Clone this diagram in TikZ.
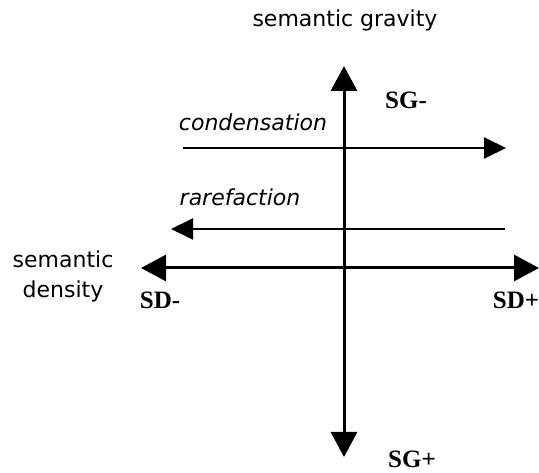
\documentclass[tikz,border=0pt]{standalone}
\usepackage{fontspec}
\setmainfont{DejaVu Sans}
\newfontfamily\labfont{Liberation Serif}
\usetikzlibrary{arrows.meta}
\begin{document}
\begin{tikzpicture}[x=1pt,y=-1pt,
  axis/.style={line width=3pt,-{Triangle[length=25pt,width=26pt]}},
  flow/.style={line width=2pt,-{Triangle[length=22pt,width=21pt]}},
  lbl/.style={font=\fontsize{22}{30}\selectfont},
  pole/.style={font=\labfont\bfseries\fontsize{25}{30}\selectfont},
  flowlbl/.style={font=\itshape\fontsize{22}{26}\selectfont}]
\useasboundingbox (0,0) rectangle (539,473);
\coordinate (vtop) at (344,66);
\coordinate (vbot) at (344,457);
\coordinate (hl) at (141,268);
\coordinate (hr) at (539,268);
\coordinate (c0) at (344,268);
\draw[axis] (c0) -- (vtop);
\draw[axis] (c0) -- (vbot);
\draw[axis] (c0) -- (hl);
\draw[axis] (c0) -- (hr);
\coordinate (cs) at (183,148);
\coordinate (ce) at (506,148);
\coordinate (rs) at (505,229);
\coordinate (re) at (171,229);
\draw[flow] (cs) -- (ce);
\draw[flow] (rs) -- (re);
\node[lbl] (sg) at (345,20) {semantic gravity};
\node[lbl,align=center] (sd) at (63,276) {semantic\\density};
\node[pole] (sgm) at (406,100) {SG-};
\node[pole,inner sep=1pt] (sgp) at (412,459) {SG+};
\node[pole] (sdm) at (160,300) {SD-};
\node[pole] (sdp) at (516,300) {SD+};
\node[flowlbl] (cond) at (253,122) {condensation};
\node[flowlbl] (rare) at (240,197) {rarefaction};
\end{tikzpicture}
\end{document}
